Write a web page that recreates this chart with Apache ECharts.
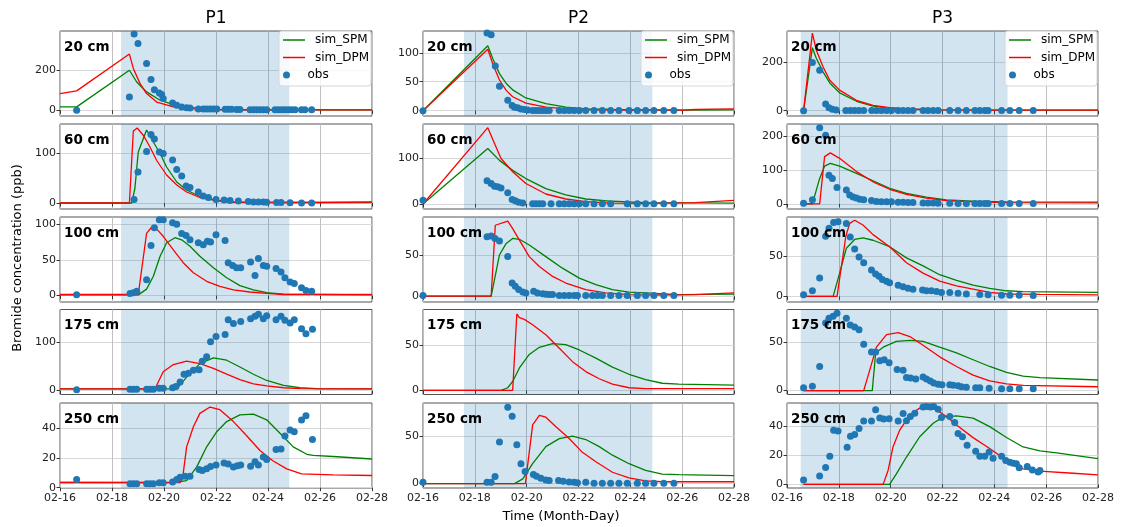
<!DOCTYPE html>
<html>
<head>
<meta charset="utf-8">
<script src="https://cdn.jsdelivr.net/npm/echarts@6/dist/echarts.min.js"></script>
<style>
html, body { margin: 0; padding: 0; background: #fff; }
#chart { width: 1121px; height: 527px; }
</style>
</head>
<body>
<div id="chart"></div>
<script>
var plots = ['P1', 'P2', 'P3'];
var depths = ['20 cm', '60 cm', '100 cm', '175 cm', '250 cm'];
var xTickLabels = ['02-16', '02-18', '02-20', '02-22', '02-24', '02-26', '02-28'];
// x values are days since 02-16 00:00
// irrigation period per profile
var irrigStart = [2.35, 1.58, 0.53];
var irrigEnd = [8.82, 8.85, 8.51];

// y ranges and ticks, one row per depth, [P1, P2, P3]
var yMin = [[-28, -9.2, -22], [-12, -11, -15], [-9, -7, -7], [-8, -4.5, -4], [-0.2, -4.6, -2.5]];
var yMax = [[392, 137.6, 330], [158, 176, 235], [110, 96, 99], [168, 90, 84], [57, 85, 55.7]];
var yTicks = [
    [[0, 200], [0, 50, 100], [0, 200]],
    [[0, 100], [0, 100], [0, 100, 200]],
    [[0, 50, 100], [0, 50], [0, 50]],
    [[0, 100], [0, 50], [0, 50]],
    [[0, 20, 40], [0, 50], [0, 20, 40]]
];

// ---- 20 cm ----
var spm_P1_20 = [[0,17],[0.64,17],[2.67,198],[2.95,140],[3.33,91],[3.85,50],[4.36,28],[5.13,13],[6.03,5],[7,3],[12,2]];
var dpm_P1_20 = [[0,83],[0.64,96],[2.67,278],[2.82,207],[3.08,132],[3.33,83],[3.72,41],[4.36,17],[5.38,5],[6.5,2.5],[8,2],[12,2]];
var obs_P1_20 = [[0.64,0],[2.67,66],[2.85,377],[3.0,330],[3.33,231],[3.5,152],[3.63,102],[3.82,86],[3.91,78],[3.97,58],[4.33,36],[4.49,25],[4.68,17],[4.87,13],[5.0,12],[5.32,7],[5.51,7],[5.64,6],[5.77,6],[5.9,6],[6.03,6],[6.35,5],[6.47,5],[6.6,5],[6.79,4],[6.92,4],[7.31,3],[7.44,3],[7.56,3],[7.69,3],[7.82,3],[7.95,3],[8.27,3],[8.4,3],[8.53,3],[8.65,3],[8.78,3],[8.91,3],[9.04,3],[9.29,3],[9.42,3],[9.68,3]];

var spm_P2_20 = [[0,0],[2.5,112],[2.69,90],[2.95,64],[3.21,47],[3.46,36],[3.97,22],[4.74,12],[5.51,6],[6.28,3],[7.3,2],[10,1],[12,1.5]];
var dpm_P2_20 = [[0,0],[2.5,106],[2.69,81],[2.95,53],[3.21,35],[3.46,24],[3.97,13],[4.74,6],[5.51,3],[6.28,2],[8,1],[10,1],[10.5,2],[12,3]];
var obs_P2_20 = [[0,0],[2.47,134],[2.63,131],[2.79,77],[2.95,42],[3.27,18],[3.44,9],[3.53,6],[3.65,5],[3.78,3],[3.91,2],[4.04,1],[4.23,0.5],[4.36,0.5],[4.49,0.5],[4.62,0.5],[4.74,0.5],[4.87,0.5],[5.26,0.5],[5.45,0.5],[5.64,0.5],[5.83,0.5],[6.03,0.5],[6.28,0.5],[6.6,0.5],[6.92,0.5],[7.24,0.5],[7.56,0.5],[7.95,0.5],[8.27,0.5],[8.59,0.5],[8.91,0.5],[9.29,0.5],[9.68,0.5]];

var spm_P3_20 = [[0.64,0],[0.98,261],[1.13,217],[1.39,161],[1.65,115],[2.03,74],[2.68,39],[3.32,19],[3.96,11],[4.6,6],[5.9,3],[8,2],[12,2]];
var dpm_P3_20 = [[0.64,0],[0.98,321],[1.13,251],[1.39,182],[1.65,126],[2.03,85],[2.68,43],[3.32,22],[3.96,12.5],[4.6,7],[5.9,3],[8,2],[12,2]];
var obs_P3_20 = [[0.64,0],[0.98,200],[1.26,167],[1.49,28],[1.62,12],[1.75,6],[1.9,3],[2.27,1],[2.45,1],[2.61,1],[2.78,1],[2.96,1],[3.27,1],[3.45,1],[3.64,1],[3.84,1],[4.03,1],[4.29,1],[4.48,1],[4.67,1],[4.86,1],[5.25,1],[5.44,1],[5.64,1],[5.83,1],[6.28,1],[6.6,1],[6.92,1],[7.25,1],[7.44,1],[7.63,1],[7.76,1],[8.28,1],[8.6,1],[8.96,1],[9.5,1]];

// ---- 60 cm ----
var spm_P1_60 = [[0,0],[2.76,0],[2.88,29],[3.01,102],[3.33,146],[3.59,122],[3.85,99],[4.1,72],[4.49,42],[4.87,26],[5.38,13],[6.03,5],[6.67,1.5],[12,1]];
var dpm_P1_60 = [[0,0],[2.67,0],[2.82,144],[2.97,150],[3.21,135],[3.46,112],[3.72,85],[4.1,56],[4.49,36],[4.87,22],[5.38,11],[6.03,5],[6.67,2],[8,1],[10,1],[12,2]];
var obs_P1_60 = [[2.85,7],[3.0,62],[3.33,103],[3.5,137],[3.63,128],[3.82,102],[3.97,99],[4.33,86],[4.49,67],[4.68,54],[4.85,34],[5.0,31],[5.32,22],[5.51,14],[5.71,11],[6.0,7],[6.31,6],[6.54,5],[6.86,4],[7.24,3],[7.44,2],[7.63,2],[7.82,2],[7.95,1.5],[8.33,1],[8.5,1],[8.85,0.5],[9.29,0],[9.68,0]];

var spm_P2_60 = [[0,0],[2.5,122],[2.95,96],[3.46,74],[3.97,56],[4.74,34],[5.51,20],[6.28,11],[7.3,6],[8.6,3],[12,2]];
var dpm_P2_60 = [[0,0],[2.5,168],[2.76,133],[3.01,100],[3.46,71],[3.97,45],[4.74,22],[5.51,11],[6.28,5],[7.3,2],[8.6,1.5],[10.5,3],[12,8]];
var obs_P2_60 = [[0,8],[2.47,51],[2.63,45],[2.76,39],[2.88,38],[3.01,35],[3.27,25],[3.44,10],[3.56,7],[3.69,4],[3.85,2],[4.23,0.5],[4.36,0.5],[4.49,0.5],[4.62,0.5],[4.94,0.5],[5.26,0.5],[5.45,0.5],[5.64,0.5],[5.83,0.5],[6.03,0.5],[6.28,0.5],[6.6,0.5],[6.92,0.5],[7.24,0.5],[7.88,0.5],[8.27,0.5],[8.59,0.5],[8.91,0.5],[9.29,0.5],[9.68,0.5]];

var spm_P3_60 = [[0.64,0],[0.98,0],[1.26,75],[1.45,111],[1.67,119],[2.03,111],[2.68,90],[3.32,68],[3.96,46],[4.61,31],[5.38,20],[6.15,12],[7.18,8],[8.47,6],[12,5]];
var dpm_P3_60 = [[0.64,0],[1.26,0],[1.45,139],[1.67,150],[2.03,134],[2.68,95],[3.32,65],[3.96,43],[4.61,28],[5.38,17],[6.15,10],[7.18,6],[8.47,4],[12,3]];
var obs_P3_60 = [[0.64,2],[0.98,12],[1.26,224],[1.49,202],[1.62,84],[1.75,75],[1.93,48],[2.29,41],[2.42,26],[2.55,20],[2.68,17],[2.81,14],[2.96,12],[3.26,10],[3.45,7],[3.64,6],[3.84,6],[4.03,6],[4.29,5],[4.48,5],[4.67,4],[4.86,4],[5.25,3],[5.44,3],[5.64,3],[5.83,2],[6.28,2],[6.6,1],[6.92,1],[7.25,1],[7.44,1],[7.63,1],[7.76,1],[8.28,1],[8.6,1],[8.96,1],[9.5,1]];

// ---- 100 cm ----
var spm_P1_100 = [[0,1],[3.01,1],[3.33,9],[3.59,27],[3.85,55],[4.1,74],[4.42,81],[4.68,78],[5.0,69],[5.38,55],[5.9,39],[6.41,25],[6.92,14],[7.44,8],[7.95,4],[8.6,2],[12,1]];
var dpm_P1_100 = [[0,1.5],[3.01,1.5],[3.33,87],[3.53,96],[3.72,93],[3.97,83],[4.36,64],[4.74,46],[5.13,32],[5.64,20],[6.15,13],[6.67,8],[7.3,5],[7.95,3],[8.6,1.5],[12,1.5]];
var obs_P1_100 = [[0.64,1],[2.69,3],[2.82,4],[2.95,6],[3.33,22],[3.5,70],[3.63,95],[3.82,106],[3.97,106],[4.33,102],[4.49,100],[4.68,87],[4.85,84],[5.0,78],[5.32,74],[5.51,71],[5.67,76],[5.79,75],[6.0,85],[6.35,77],[6.47,46],[6.64,42],[6.79,39],[6.95,39],[7.33,47],[7.5,28],[7.63,52],[7.82,42],[7.95,41],[8.31,38],[8.5,33],[8.65,25],[8.85,19],[9.01,17],[9.29,11],[9.46,7],[9.68,6]];

var spm_P2_100 = [[0,0],[2.63,0],[2.95,50],[3.21,64],[3.46,70],[3.72,69],[4.1,62],[4.74,48],[5.38,34],[6.03,22],[6.67,14],[7.31,8],[7.95,5],[8.59,4],[9.87,2],[12,2.5]];
var dpm_P2_100 = [[0,0],[2.63,0],[2.79,86],[3.27,91],[3.46,82],[3.72,68],[4.1,48],[4.49,36],[5.0,24],[5.51,16],[6.28,8],[7.05,4],[7.95,2],[9,1.5],[10.5,2],[12,4]];
var obs_P2_100 = [[0,1],[2.47,72],[2.63,73],[2.78,70],[2.95,67],[3.27,48],[3.44,16],[3.56,12],[3.69,8],[3.85,5],[3.97,4],[4.27,6],[4.42,4],[4.62,3],[4.74,2.5],[4.87,2],[5.0,2],[5.26,1],[5.45,1],[5.64,1],[5.83,1],[5.96,1],[6.28,1],[6.54,1],[6.73,1],[6.92,1],[7.24,1],[7.56,1],[7.88,1],[8.27,1],[8.59,1],[8.91,1],[9.29,1],[9.68,1]];

var spm_P3_100 = [[0.64,0],[1.78,0],[2.03,29],[2.29,60],[2.61,71],[2.93,73],[3.32,70],[3.96,62],[4.61,48],[5.25,38],[5.89,27],[6.54,20],[7.18,14],[7.82,10],[8.47,7],[9.11,6],[12,5]];
var dpm_P3_100 = [[0.64,0],[1.93,0],[2.27,75],[2.42,91],[2.61,95],[2.93,89],[3.32,77],[3.96,62],[4.61,42],[5.25,29],[5.89,19],[6.54,13],[7.18,9],[7.82,5],[8.47,3],[9.76,2.5],[12,2]];
var obs_P3_100 = [[0.64,2],[0.98,7],[1.26,23],[1.49,75],[1.62,85],[1.8,92],[1.97,93],[2.29,91],[2.44,74],[2.61,59],[2.78,49],[2.96,42],[3.26,33],[3.42,28],[3.55,25],[3.68,21],[3.84,19],[3.96,17],[4.29,14],[4.48,12],[4.67,10],[4.86,9],[5.23,8],[5.38,7],[5.57,7],[5.77,6],[5.96,5],[6.28,5],[6.6,4],[6.92,3],[7.44,2.5],[7.76,2],[8.28,1.5],[8.6,1.5],[8.96,1.5],[9.5,1]];

// ---- 175 cm ----
var spm_P1_175 = [[0,3.5],[4.49,3.5],[4.87,28],[5.38,56],[5.9,68],[6.41,63],[6.92,49],[7.44,34],[7.95,21],[8.6,11],[9.23,6],[9.87,4],[12,3.5]];
var dpm_P1_175 = [[0,3.5],[3.65,3.5],[3.97,39],[4.36,54],[4.87,61],[5.38,56],[5.9,46],[6.41,34],[6.92,23],[7.44,14],[7.95,10],[8.6,6],[9.23,4],[10,3.5],[12,3.5]];
var obs_P1_175 = [[0.64,2],[2.69,3],[2.82,3],[2.95,3],[3.33,3],[3.46,3],[3.59,3],[3.82,5],[3.97,5],[4.33,6],[4.46,8.5],[4.62,18],[4.77,34],[4.94,36],[5.13,42],[5.35,43],[5.47,61],[5.64,70],[5.79,101],[6.0,112],[6.35,116],[6.47,147],[6.67,139],[6.95,143],[7.33,149],[7.5,154],[7.63,158],[7.82,149],[7.95,155],[8.31,147],[8.5,154],[8.65,146],[8.85,140],[9.01,147],[9.29,128],[9.46,118],[9.71,127]];

var spm_P2_175 = [[0,0],[3.01,0],[3.27,3],[3.46,10],[3.72,25],[4.1,40],[4.49,48],[5.0,52],[5.51,51],[6.03,45],[6.67,36],[7.31,26],[7.95,18],[8.59,12],[9.23,8],[9.87,7],[12,6]];
var dpm_P2_175 = [[0,0],[3.46,0],[3.62,85],[3.72,81],[3.91,79],[4.23,73],[4.74,62],[5.26,47],[5.77,32],[6.28,21],[6.8,13],[7.31,7],[7.95,3],[8.59,2],[12,2]];
var obs_P2_175 = [];

var spm_P3_175 = [[0.64,0],[3.29,0],[3.42,39],[3.71,45],[4.22,51],[4.74,52],[5.25,51],[5.89,45],[6.54,39],[7.18,32],[7.82,25],[8.47,19],[9.11,15],[9.76,13.5],[12,11]];
var dpm_P3_175 = [[0.64,0],[2.96,0],[3.19,21],[3.45,45],[3.84,58],[4.29,60],[4.74,56],[5.25,47],[5.89,35],[6.54,25],[7.18,16],[7.82,10],[8.47,7],[9.11,5.5],[12,4]];
var obs_P3_175 = [[0.64,3],[0.98,4.5],[1.26,25],[1.49,70],[1.62,75],[1.78,77],[1.93,80],[2.29,75],[2.44,68],[2.61,66],[2.78,63],[2.96,48],[3.26,40],[3.42,40],[3.58,31],[3.75,32],[3.94,29],[4.25,22],[4.48,21],[4.61,13.5],[4.77,13],[4.97,12],[5.25,14],[5.38,12],[5.53,10],[5.66,8],[5.83,6.6],[5.98,6],[6.28,6],[6.41,5.5],[6.6,5],[6.73,4],[6.92,3.5],[7.28,3],[7.44,3],[7.8,2.5],[8.28,2],[8.6,2],[8.96,2],[9.5,2]];

// ---- 250 cm ----
var spm_P1_250 = [[0,3.5],[4.36,3.5],[4.87,4.8],[5.26,14],[5.64,27.5],[6.03,37.7],[6.41,44.5],[6.92,49],[7.44,49.5],[7.95,45.7],[8.46,36.6],[8.97,27.5],[9.49,22.5],[9.74,21.8],[10.5,21],[12,19.3]];
var dpm_P1_250 = [[0,3.5],[4.62,3.4],[4.72,7],[4.87,27.5],[5.13,41],[5.38,50],[5.77,54.3],[6.15,52.5],[6.67,44.5],[7.18,35],[7.69,25],[8.2,18],[8.72,12.7],[9.29,9.3],[10.5,8.6],[12,8.2]];
var obs_P1_250 = [[0.64,5.5],[2.69,2.7],[2.82,2.7],[2.95,2.7],[3.33,2.7],[3.46,2.7],[3.59,2.7],[3.82,3.4],[3.97,3.4],[4.33,3.9],[4.49,5.5],[4.62,7],[4.81,7.7],[5.0,7.7],[5.35,12.3],[5.47,11.6],[5.64,12.7],[5.79,14.3],[6.0,15.2],[6.31,16.6],[6.47,16],[6.67,13.9],[6.82,14.8],[6.95,15.2],[7.33,14.5],[7.5,17.5],[7.63,15.2],[7.82,20.7],[7.95,19],[8.31,25.7],[8.5,26],[8.65,34.8],[8.85,38.9],[9.01,37.7],[9.29,45.5],[9.46,48.4],[9.71,32.5]];

var spm_P2_250 = [[0,0],[3.53,0],[3.85,5],[4.23,21],[4.74,39],[5.26,47.5],[5.77,50],[6.28,46.5],[6.8,39],[7.31,30],[7.95,21],[8.59,14],[9.23,10],[9.87,9.5],[12,8.5]];
var dpm_P2_250 = [[0,0],[3.95,0],[4.23,62],[4.49,72],[4.74,70],[5.13,60],[5.64,47.5],[6.15,33],[6.67,23],[7.31,12],[7.95,6],[8.59,3],[9.23,2],[12,2]];
var obs_P2_250 = [[0,1.5],[2.47,1.5],[2.63,1.5],[2.78,7.4],[2.95,44],[3.27,80.5],[3.44,71],[3.62,41],[3.78,21],[3.94,12.8],[4.26,9.6],[4.38,7.8],[4.55,5.7],[4.74,3.9],[4.87,3.2],[5.23,3.2],[5.41,2.5],[5.64,1.8],[5.83,1.4],[5.96,1],[6.28,1.4],[6.6,0.4],[6.92,0.4],[7.24,0.4],[7.56,0.4],[7.88,0.4],[8.27,0.4],[8.59,0.4],[8.91,0.4],[9.29,0.4],[9.68,0.4]];

var spm_P3_250 = [[0.64,0],[3.96,0],[4.22,7.2],[4.61,18.7],[5.12,32.6],[5.64,41.8],[6.02,46],[6.54,46.9],[7.18,45.3],[7.82,39.5],[8.47,32.1],[9.11,25.6],[9.76,22.9],[10.4,21.5],[12,17.6]];
var dpm_P3_250 = [[0.64,0],[3.71,0],[3.9,9.5],[4.09,25.6],[4.35,37.2],[4.74,47.6],[5.12,52.2],[5.44,52.9],[5.77,51],[6.15,46.4],[6.54,40.6],[7.18,32],[7.82,24.5],[8.47,16.4],[9.11,10.6],[9.76,9],[11.04,7.6],[12,6.5]];
var obs_P3_250 = [[0.64,3],[1.26,5.8],[1.49,11.5],[1.65,19.2],[1.8,37],[1.97,36.5],[2.32,25.4],[2.45,33],[2.61,34.2],[2.78,38.3],[2.96,43.4],[3.26,43.4],[3.42,51],[3.58,45.5],[3.73,44.8],[3.94,45],[4.29,43.4],[4.48,48.5],[4.61,43.6],[4.76,46.4],[4.93,48.7],[5.25,52.9],[5.38,53.3],[5.53,52.9],[5.66,53.3],[5.83,51.5],[5.96,45.7],[6.28,46.4],[6.47,42.3],[6.6,34.9],[6.77,32.6],[6.95,26.8],[7.28,22.6],[7.44,19.2],[7.63,19.2],[7.8,22.2],[7.95,17.8],[8.28,19.2],[8.44,16.4],[8.6,15.2],[8.73,14.5],[8.85,14.1],[8.96,11.3],[9.27,12.2],[9.47,9.9],[9.69,8.5],[9.76,9.5]];

var spm = [
    [spm_P1_20, spm_P2_20, spm_P3_20],
    [spm_P1_60, spm_P2_60, spm_P3_60],
    [spm_P1_100, spm_P2_100, spm_P3_100],
    [spm_P1_175, spm_P2_175, spm_P3_175],
    [spm_P1_250, spm_P2_250, spm_P3_250]
];
var dpm = [
    [dpm_P1_20, dpm_P2_20, dpm_P3_20],
    [dpm_P1_60, dpm_P2_60, dpm_P3_60],
    [dpm_P1_100, dpm_P2_100, dpm_P3_100],
    [dpm_P1_175, dpm_P2_175, dpm_P3_175],
    [dpm_P1_250, dpm_P2_250, dpm_P3_250]
];
var obs = [
    [obs_P1_20, obs_P2_20, obs_P3_20],
    [obs_P1_60, obs_P2_60, obs_P3_60],
    [obs_P1_100, obs_P2_100, obs_P3_100],
    [obs_P1_175, obs_P2_175, obs_P3_175],
    [obs_P1_250, obs_P2_250, obs_P3_250]
];

var myChart = echarts.init(document.getElementById('chart'));

var FONT = 'DejaVu Sans';
var gridLeft = [60, 423, 787];
var gridWidth = [312, 311, 311];
var gridTop = [31, 124, 217, 309.5, 403];
var gridHeight = 85;

var grids = [], xAxes = [], yAxes = [], series = [], graphic = [], legends = [];

for (var r = 0; r < 5; r++) {
    for (var c = 0; c < 3; c++) {
        var i = r * 3 + c;
        grids.push({
            left: gridLeft[c], top: gridTop[r], width: gridWidth[c], height: gridHeight,
            show: true, borderColor: '#555', borderWidth: 1, backgroundColor: 'transparent'
        });
        xAxes.push({
            gridIndex: i, type: 'value', min: 0, max: 12, interval: 2,
            axisLine: { show: false },
            axisTick: { show: true, length: 3.5, lineStyle: { color: '#333' } },
            axisLabel: {
                show: r === 4, fontSize: 11, fontFamily: FONT, color: '#222', margin: 5,
                formatter: function (v) { return xTickLabels[Math.round(v / 2)]; }
            },
            splitLine: { show: true, lineStyle: { color: '#c0c0c0', width: 1 } }
        });
        yAxes.push({
            gridIndex: i, type: 'value', min: yMin[r][c], max: yMax[r][c],
            axisLine: { show: false },
            axisTick: { show: true, length: 3.5, lineStyle: { color: '#333' }, customValues: yTicks[r][c] },
            axisLabel: { fontSize: 11, fontFamily: FONT, color: '#222', margin: 4, customValues: yTicks[r][c] },
            splitLine: { show: true, lineStyle: { color: '#d8d8d8', width: 1 } }
        });
        series.push({
            name: 'sim_SPM', type: 'line', xAxisIndex: i, yAxisIndex: i,
            data: spm[r][c], showSymbol: false, symbol: 'none', z: 2,
            color: '#008000', lineStyle: { width: 1.3, color: '#008000' },
            markArea: {
                silent: true,
                itemStyle: { color: 'rgba(31,119,180,0.2)' },
                data: [[{ xAxis: irrigStart[c] }, { xAxis: irrigEnd[c] }]]
            }
        });
        series.push({
            name: 'sim_DPM', type: 'line', xAxisIndex: i, yAxisIndex: i,
            data: dpm[r][c], showSymbol: false, symbol: 'none', z: 2,
            color: '#ff0000', lineStyle: { width: 1.3, color: '#ff0000' }
        });
        series.push({
            name: 'obs', type: 'scatter', xAxisIndex: i, yAxisIndex: i,
            data: obs[r][c], symbolSize: 7, z: 3,
            itemStyle: { color: '#1f77b4', opacity: 1 }
        });
        graphic.push({
            type: 'text', x: gridLeft[c] + 4, y: gridTop[r] + 16, z: 20,
            style: { text: depths[r], fontSize: 13.5, fontWeight: 'bold', fontFamily: FONT, fill: '#000', textVerticalAlign: 'middle' }
        });
    }
}

for (var c = 0; c < 3; c++) {
    var boxLeft = gridLeft[c] + gridWidth[c] - 93;
    graphic.push({
        type: 'text', x: gridLeft[c] + gridWidth[c] / 2, y: 19,
        style: { text: plots[c], fontSize: 17, fontFamily: FONT, fill: '#000', textAlign: 'center', textVerticalAlign: 'middle' }
    });
    graphic.push({
        type: 'rect', z: 10,
        shape: { x: boxLeft, y: 31, width: 92, height: 55, r: 3 },
        style: { fill: 'rgba(255,255,255,0.8)', stroke: '#d6d6d6', lineWidth: 1 }
    });
    legends.push({
        left: boxLeft + 4, top: 34, padding: 0, orient: 'vertical', z: 11,
        itemWidth: 22, itemHeight: 1.5, itemGap: 5.5, icon: 'rect', selectedMode: false,
        data: ['sim_SPM', 'sim_DPM'],
        textStyle: { fontSize: 12, fontFamily: FONT, color: '#000', padding: [0, 0, 0, 5] }
    });
    legends.push({
        left: boxLeft + 4, top: 69, padding: 0, orient: 'vertical', z: 11,
        itemWidth: 22, itemHeight: 7, icon: 'circle', selectedMode: false,
        data: ['obs'],
        textStyle: { fontSize: 12, fontFamily: FONT, color: '#000', padding: [0, 0, 0, 5] }
    });
}

graphic.push({
    type: 'text', x: 18, y: 258, rotation: Math.PI / 2,
    style: { text: 'Bromide concentration (ppb)', fontSize: 13, fontFamily: FONT, fill: '#000', textAlign: 'center', textVerticalAlign: 'middle' }
});
graphic.push({
    type: 'text', x: 561, y: 517,
    style: { text: 'Time (Month-Day)', fontSize: 13, fontFamily: FONT, fill: '#000', textAlign: 'center', textVerticalAlign: 'middle' }
});

var option = {
    animation: false,
    backgroundColor: '#fff',
    grid: grids,
    xAxis: xAxes,
    yAxis: yAxes,
    legend: legends,
    series: series,
    graphic: graphic
};
myChart.setOption(option);
</script>
</body>
</html>
